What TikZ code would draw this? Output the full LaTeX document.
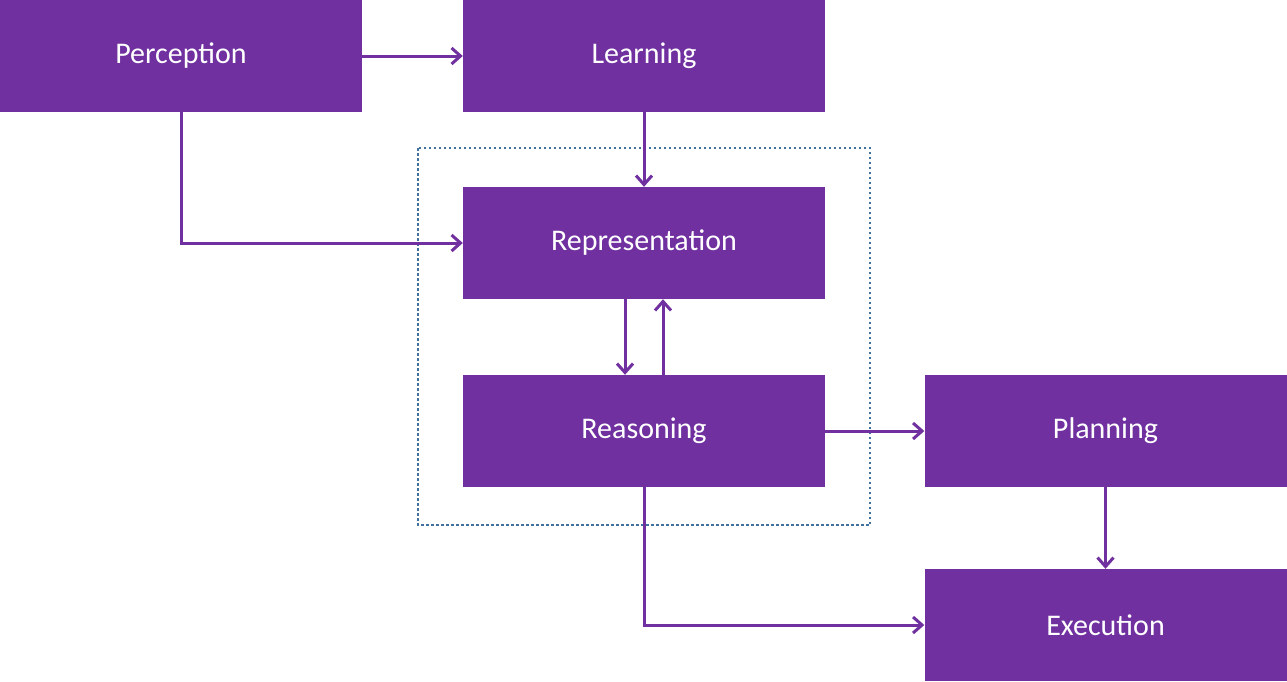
\documentclass[tikz,border=0pt]{standalone}
\usepackage{fontspec}
\setmainfont{Carlito}
\usetikzlibrary{arrows.meta}
\definecolor{pur}{HTML}{7030A0}
\definecolor{dotb}{HTML}{41719C}
\begin{document}
\begin{tikzpicture}[x=1pt,y=-1pt,
  box/.style={fill=pur,draw=none,minimum width=362pt,minimum height=112pt,inner sep=0,text=white,font=\fontsize{30}{36}\selectfont},
  arr/.style={draw=pur,line width=3pt,-{Straight Barb[length=9pt,width=16pt,line width=3pt]}}]
\useasboundingbox (0,0) rectangle (1287,681);
\node[box] (per) at (181,56) {Perception};
\node[box] (lea) at (644,56) {Learning};
\node[box] (rep) at (644,243) {Representation};
\node[box] (rea) at (644,431) {Reasoning};
\node[box] (pla) at (1105.5,431) {Planning};
\node[box] (exe) at (1105.5,625) {Execution};
\draw[dotb,line width=2.5pt,dash pattern=on 2.5pt off 2.5pt] (418,148) rectangle (870,525);
\draw[arr] (per) -- (lea);
\draw[arr] (lea) -- (rep);
\draw[arr] (per.south) |- (rep.west);
\draw[arr] ([xshift=-19pt]rep.south) -- ([xshift=-19pt]rea.north);
\draw[arr] ([xshift=19pt]rea.north) -- ([xshift=19pt]rep.south);
\draw[arr] (rea) -- (pla);
\draw[arr] (pla) -- (exe);
\draw[arr] (rea.south) |- (exe.west);
\end{tikzpicture}
\end{document}
